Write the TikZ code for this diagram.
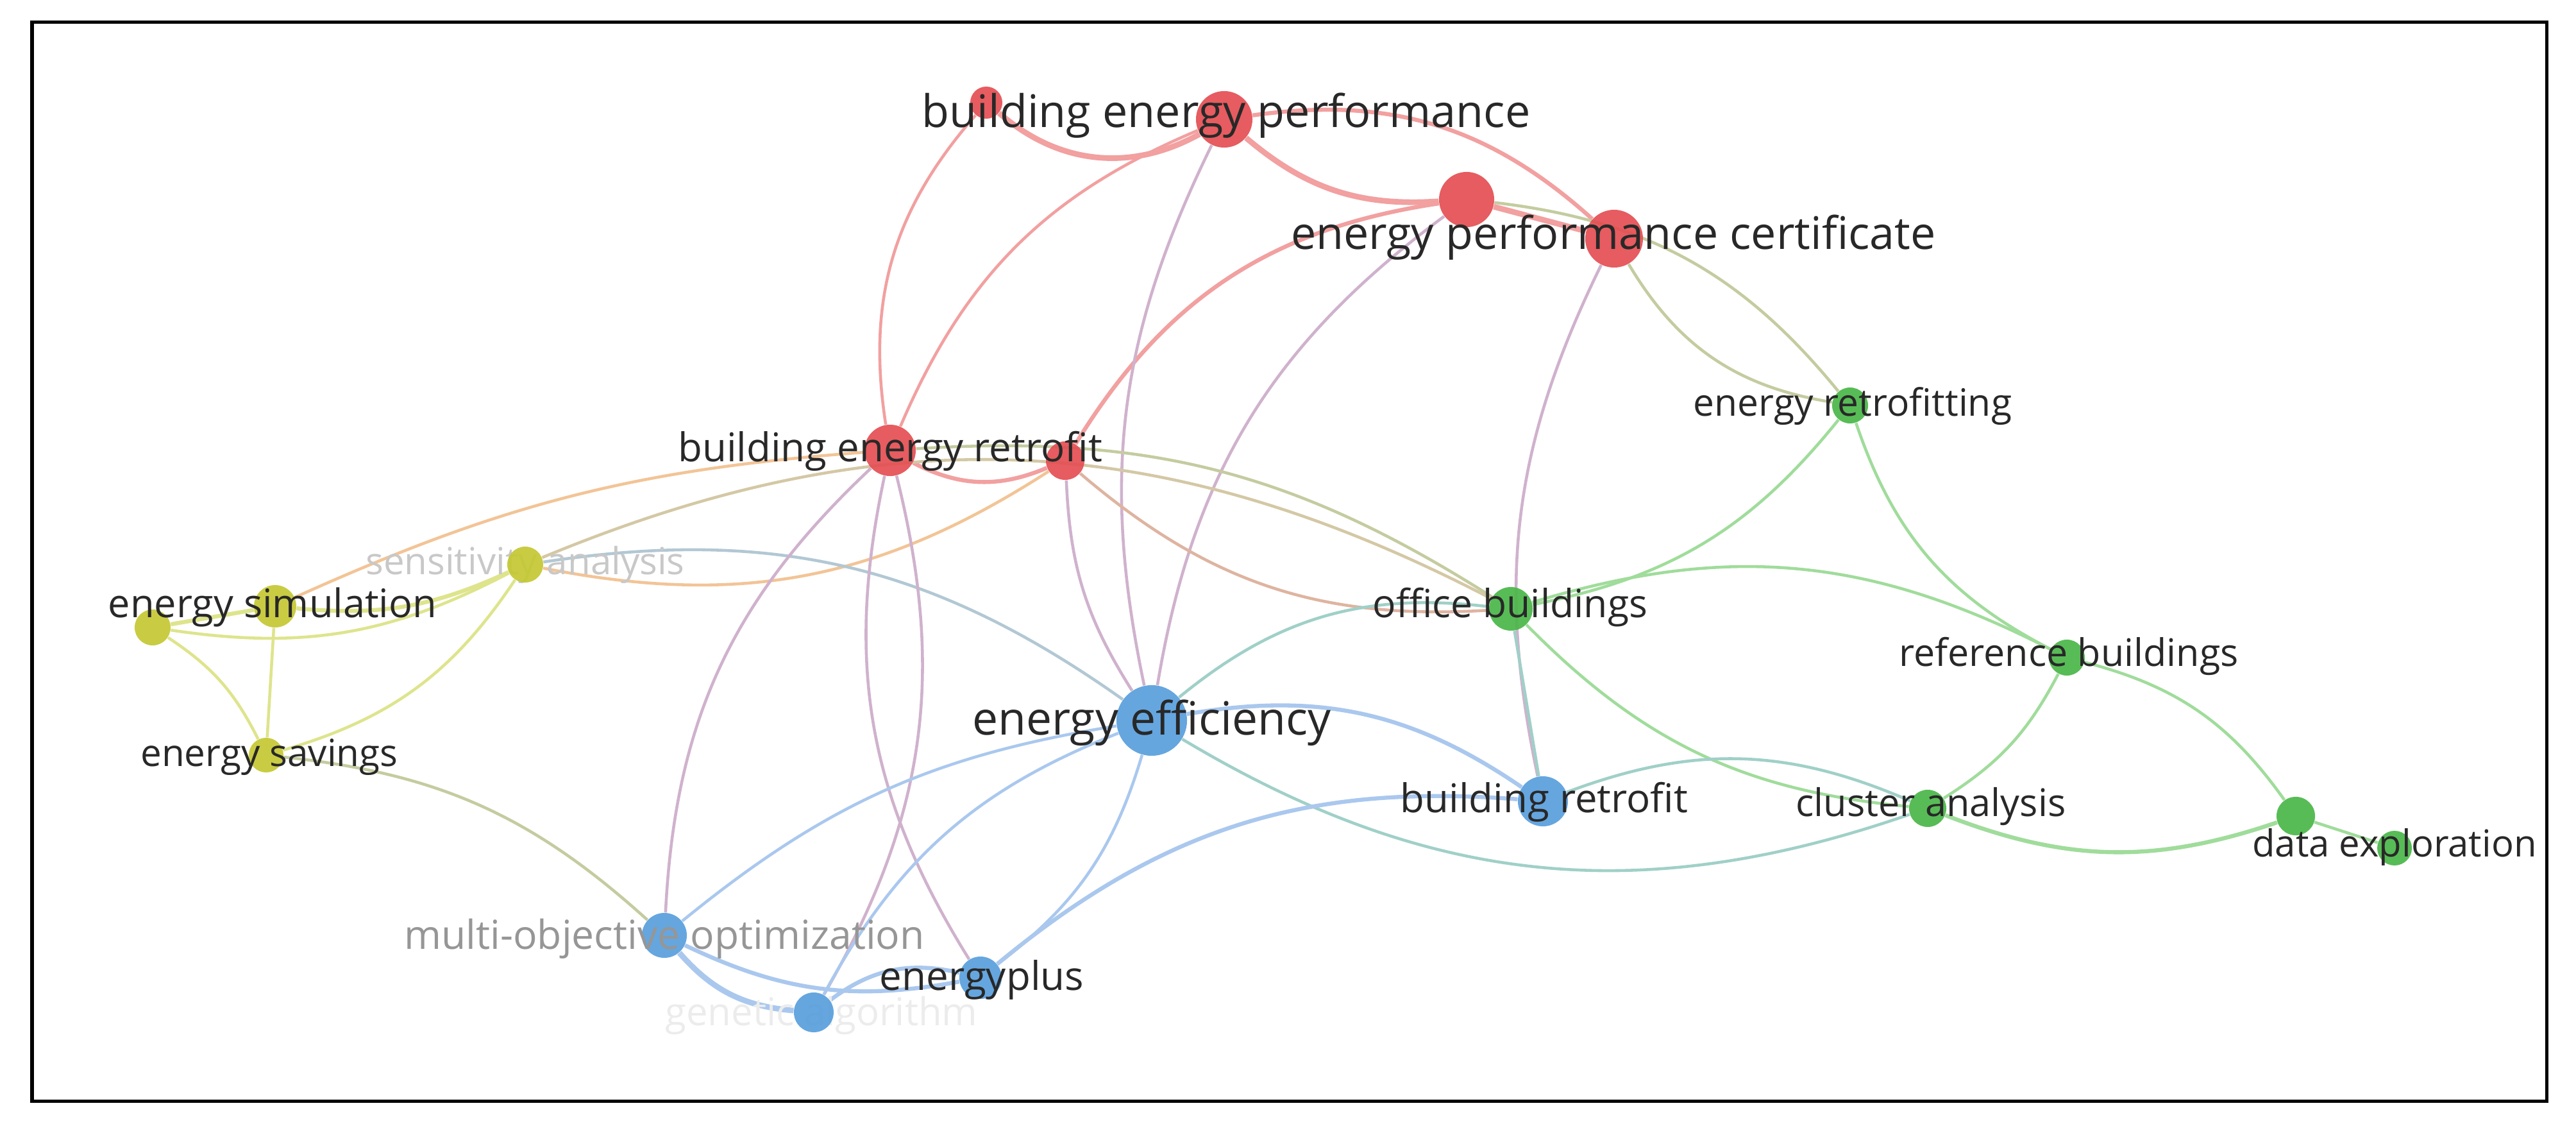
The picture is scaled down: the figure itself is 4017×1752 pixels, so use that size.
\documentclass[tikz,border=0pt]{standalone}
\usepackage{fontspec}
\setmainfont{Open Sans}
\usetikzlibrary{backgrounds}
\definecolor{cR}{RGB}{228,78,82}
\definecolor{cG}{RGB}{74,182,72}
\definecolor{cB}{RGB}{88,158,220}
\definecolor{cY}{RGB}{196,200,50}
\definecolor{txt}{RGB}{40,40,40}
\definecolor{txtS}{RGB}{200,200,200}
\definecolor{txtM}{RGB}{150,150,150}
\definecolor{txtU}{RGB}{236,236,236}
\definecolor{eRc}{RGB}{242,160,160}
\definecolor{eGc}{RGB}{160,220,155}
\definecolor{eBc}{RGB}{170,200,238}
\definecolor{eYc}{RGB}{222,228,140}
\definecolor{ePuc}{RGB}{208,178,205}
\definecolor{eTanc}{RGB}{212,200,165}
\definecolor{eOrc}{RGB}{242,196,150}
\definecolor{eTealc}{RGB}{160,208,200}
\definecolor{eOlc}{RGB}{196,204,160}
\definecolor{eGBc}{RGB}{178,200,212}
\definecolor{eBrc}{RGB}{222,180,160}
\newcommand{\lbl}[2]{\resizebox{#1cm}{!}{#2}}
\begin{document}
\begin{tikzpicture}[x=0.01cm,y=-0.01cm,
  dot/.style={circle,inner sep=0pt,fill opacity=0.92,draw=none},
  rn/.style={dot,fill=cR},
  gn/.style={dot,fill=cG},
  bn/.style={dot,fill=cB},
  yn/.style={dot,fill=cY},
  lab/.style={inner sep=0pt,text=txt,anchor=center},
  eR/.style={draw=eRc},
  eG/.style={draw=eGc},
  eB/.style={draw=eBc},
  eY/.style={draw=eYc},
  ePu/.style={draw=ePuc},
  eTan/.style={draw=eTanc},
  eOr/.style={draw=eOrc},
  eTeal/.style={draw=eTealc},
  eOl/.style={draw=eOlc},
  eGB/.style={draw=eGBc},
  eBr/.style={draw=eBrc},
  w1/.style={line width=1.3pt},
  w2/.style={line width=1.8pt},
  w3/.style={line width=2.5pt}]
\useasboundingbox (0,0) rectangle (4017,1752);
\draw[line width=0.05cm] (50,35) rectangle (3971,1716);

% faint labels (behind their nodes)
\node[lab,text=txtS] (Hl) at (819,880) {\lbl{4.97}{sensitivity analysis}};
\node[lab,text=txtU] (Ul) at (1281,1583) {\lbl{4.87}{genetic algorithm}};

% nodes
\node[rn,minimum size=0.50cm] (A) at (1538,160) {};
\node[rn,minimum size=0.88cm] (B) at (1909,186) {};
\node[rn,minimum size=0.86cm] (C) at (2287,311) {};
\node[rn,minimum size=0.90cm] (D) at (2517,372) {};
\node[rn,minimum size=0.80cm] (E) at (1388,702) {};
\node[rn,minimum size=0.60cm] (F) at (1661,718) {};
\node[gn,minimum size=0.56cm] (G) at (2885,632) {};
\node[yn,minimum size=0.56cm] (H) at (819,880) {};
\node[yn,minimum size=0.66cm] (I) at (429,945) {};
\node[yn,minimum size=0.56cm] (J) at (238,978) {};
\node[yn,minimum size=0.54cm] (K) at (415,1177) {};
\node[gn,minimum size=0.68cm] (L) at (2356,949) {};
\node[gn,minimum size=0.56cm] (M) at (3223,1025) {};
\node[bn,minimum size=1.10cm] (N) at (1796,1123) {};
\node[bn,minimum size=0.78cm] (O) at (2406,1249) {};
\node[gn,minimum size=0.58cm] (P) at (3006,1260) {};
\node[gn,minimum size=0.60cm] (Q) at (3580,1272) {};
\node[gn,minimum size=0.54cm] (R) at (3734,1322) {};
\node[bn,minimum size=0.70cm] (S) at (1036,1458) {};
\node[bn,minimum size=0.66cm] (T) at (1529,1524) {};
\node[bn,minimum size=0.62cm] (U) at (1269,1578) {};

% labels
\node[lab] (Bl) at (1912,180) {\lbl{9.48}{building energy performance}};
\node[lab] (Dl) at (2516,370) {\lbl{10.05}{energy performance certificate}};
\node[lab] (El) at (1388,703) {\lbl{6.61}{building energy retrofit}};
\node[lab] (Gl) at (2889,633) {\lbl{4.96}{energy retrofitting}};
\node[lab] (Il) at (425,947) {\lbl{5.12}{energy simulation}};
\node[lab] (Kl) at (420,1180) {\lbl{4.01}{energy savings}};
\node[lab] (Ll) at (2355,947) {\lbl{4.28}{office buildings}};
\node[lab] (Ml) at (3226,1023) {\lbl{5.29}{reference buildings}};
\node[lab] (Nl) at (1796,1127) {\lbl{5.59}{energy efficiency}};
\node[lab] (Ol) at (2408,1250) {\lbl{4.48}{building retrofit}};
\node[lab] (Pl) at (3011,1257) {\lbl{4.21}{cluster analysis}};
\node[lab] (Rl) at (3734,1320) {\lbl{4.43}{data exploration}};
\node[lab,text=txtM] (Sl) at (1036,1463) {\lbl{8.11}{multi-objective optimization}};
\node[lab] (Tl) at (1531,1527) {\lbl{3.18}{energyplus}};

\begin{scope}[on background layer]
% red cluster
\draw[eR,w3] (A) to[bend right=35] (B);
\draw[eR,w1] (A) to[bend right=25] (E);
\draw[eR,w1] (B) to[bend right=22] (E);
\draw[eR,w3] (B) to[bend right=22] (C);
\draw[eR,w2] (B) to[bend left=25] (D);
\draw[eR,w3] (C) -- (D);
\draw[eR,w2] (C) to[bend right=25] (F);
\draw[ePu,w1] (C) to[bend right=22] (N);
\draw[ePu,w1] (B) to[bend right=19] (N);
\draw[ePu,w1] (D) to[bend right=19] (O);
\draw[eOl,w1] (D) to[bend right=25] (G);
\draw[eOl,w1] (C) to[bend left=22] (G);
\draw[eR,w2] (E) to[bend right=25] (F);
\draw[eBr,w1] (F) to[bend right=22] (L);
\draw[eOl,w1] (E) to[bend left=18] (L);
\draw[eTan,w1] (H) to[bend left=25] (L);
\draw[eOr,w1] (H) to[bend right=22] (F);
\draw[eGB,w1] (H) to[bend left=22] (N);
\draw[eOr,w1] (I) to[bend left=10] (E);
\draw[ePu,w1] (F) to[bend right=15] (N);
\draw[ePu,w1] (E) to[bend right=22] (S);
\draw[ePu,w1] (E) to[bend left=22] (U);
\draw[ePu,w1] (E) to[bend right=22] (T);
% yellow cluster
\draw[eY,w2] (I) to[bend right=15] (H);
\draw[eY,w1] (J) to[bend right=18] (H);
\draw[eY,w2] (J) -- (I);
\draw[eY,w1] (J) to[bend left=15] (K);
\draw[eY,w1] (I) -- (K);
\draw[eY,w1] (K) to[bend right=20] (H);
\draw[eOl,w1] (K) to[bend left=18] (S);
% blue cluster
\draw[eB,w1] (N) to[bend right=15] (S);
\draw[eB,w1] (N) to[bend right=20] (U);
\draw[eB,w1] (N) to[bend left=18] (T);
\draw[eB,w2] (N) to[bend left=22] (O);
\draw[eTeal,w1] (N) to[bend right=25] (P);
\draw[eTeal,w1] (N) to[bend left=23] (L);
\draw[eB,w3] (S) to[bend right=22] (U);
\draw[eB,w2] (S) to[bend right=18] (T);
\draw[eB,w2] (U) to[bend left=25] (T);
\draw[eB,w2] (T) to[bend left=22] (O);
\draw[eTeal,w1] (L) -- (O);
% green cluster
\draw[eG,w1] (G) to[bend left=20] (L);
\draw[eG,w1] (G) to[bend right=22] (M);
\draw[eG,w1] (L) to[bend left=22] (M);
\draw[eG,w1] (L) to[bend right=20] (P);
\draw[eTeal,w1] (O) to[bend left=22] (P);
\draw[eG,w1] (M) to[bend left=15] (P);
\draw[eG,w1] (M) to[bend left=20] (Q);
\draw[eG,w2] (P) to[bend right=20] (Q);
\draw[eG,w1] (Q) -- (R);
\end{scope}
\end{tikzpicture}
\end{document}
